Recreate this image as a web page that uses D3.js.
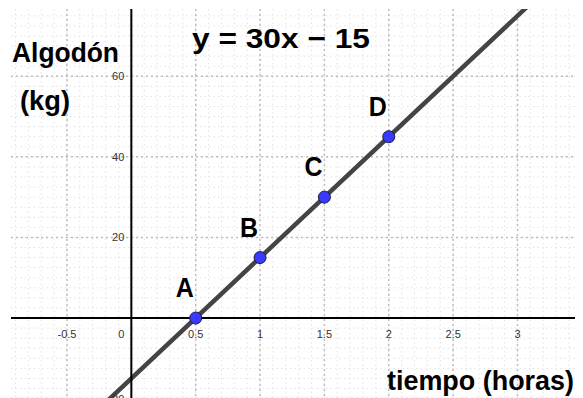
<!DOCTYPE html>
<html>
<head>
<meta charset="utf-8">
<script src="https://cdn.jsdelivr.net/npm/d3@7"></script>
<style>
  body { margin: 0; background: #fff; }
  svg { display: block; }
  text { font-family: "Liberation Sans", Arial, sans-serif; }
</style>
</head>
<body>
<div id="chart"></div>
<script>
// data
var pointNames = ['A', 'B', 'C', 'D'];
var pointX = [0.5, 1, 1.5, 2];
var pointY = [0, 15, 30, 45];
var slope = 30;
var intercept = -15;
var xTickValues = [-0.5, 0, 0.5, 1, 1.5, 2, 2.5, 3];
var xTickLabels = ['-0.5', '0', '0.5', '1', '1.5', '2', '2.5', '3'];
var yTickValues = [-20, 20, 40, 60];
var yTickLabels = ['-20', '20', '40', '60'];

var points = pointNames.map((name, i) => ({ name: name, x: pointX[i], y: pointY[i] }));

// dimensions
var dimensions = {
  width: 583,
  height: 398,
  left: 11,
  right: 575,
  top: 9,
  bottom: 398
};

var svg = d3.select('#chart')
  .append('svg')
  .attr('width', dimensions.width)
  .attr('height', dimensions.height);

// scales
var xScale = d3.scaleLinear()
  .domain([-0.935, 3.447])
  .range([dimensions.left, dimensions.right]);

var yScale = d3.scaleLinear()
  .domain([-19.85, 76.7])
  .range([dimensions.bottom, dimensions.top]);

svg.append('clipPath')
  .attr('id', 'plot-clip')
  .append('rect')
  .attr('x', dimensions.left)
  .attr('y', dimensions.top)
  .attr('width', dimensions.right - dimensions.left)
  .attr('height', dimensions.bottom - dimensions.top);

var plot = svg.append('g').attr('clip-path', 'url(#plot-clip)');

// grid - minor then major
var xMinor = d3.range(-0.9, 3.45, 0.1);
var yMinor = d3.range(-17.5, 77, 2.5);
var xMajor = d3.range(-0.5, 3.45, 0.5);
var yMajor = d3.range(-20, 77, 20);

function vGrid(values, color, width, dash) {
  plot.append('g')
    .selectAll('line')
    .data(values)
    .join('line')
    .attr('x1', d => xScale(d))
    .attr('x2', d => xScale(d))
    .attr('y1', dimensions.top)
    .attr('y2', dimensions.bottom)
    .attr('stroke', color)
    .attr('stroke-width', width)
    .attr('stroke-dasharray', dash);
}

function hGrid(values, color, width, dash) {
  plot.append('g')
    .selectAll('line')
    .data(values)
    .join('line')
    .attr('x1', dimensions.left)
    .attr('x2', dimensions.right)
    .attr('y1', d => yScale(d))
    .attr('y2', d => yScale(d))
    .attr('stroke', color)
    .attr('stroke-width', width)
    .attr('stroke-dasharray', dash);
}

vGrid(xMinor, '#e2e2e2', 1, '1.5,3');
hGrid(yMinor, '#e2e2e2', 1, '1.5,3');
vGrid(xMajor, '#bdbdbd', 1.5, '2,3');
hGrid(yMajor, '#bdbdbd', 1.5, '2,3');

// axes
svg.append('line')
  .attr('x1', dimensions.left)
  .attr('x2', dimensions.right)
  .attr('y1', yScale(0))
  .attr('y2', yScale(0))
  .attr('stroke', '#000')
  .attr('stroke-width', 2);

svg.append('line')
  .attr('x1', xScale(0))
  .attr('x2', xScale(0))
  .attr('y1', dimensions.top)
  .attr('y2', dimensions.bottom)
  .attr('stroke', '#000')
  .attr('stroke-width', 2);

// tick labels
svg.append('g')
  .selectAll('text')
  .data(xTickValues)
  .join('text')
  .attr('x', d => d === 0 ? xScale(0) - 10 : xScale(d))
  .attr('y', yScale(0) + 20)
  .attr('text-anchor', 'middle')
  .attr('font-size', 11)
  .attr('fill', '#333')
  .text((d, i) => xTickLabels[i]);

svg.append('g')
  .selectAll('text')
  .data(yTickValues)
  .join('text')
  .attr('x', xScale(0) - 7)
  .attr('y', d => yScale(d) + 4)
  .attr('text-anchor', 'end')
  .attr('font-size', 11)
  .attr('fill', '#333')
  .text((d, i) => yTickLabels[i]);

// line y = 30x - 15
var lineX = xScale.domain();
plot.append('line')
  .attr('x1', xScale(lineX[0]))
  .attr('y1', yScale(slope * lineX[0] + intercept))
  .attr('x2', xScale(lineX[1]))
  .attr('y2', yScale(slope * lineX[1] + intercept))
  .attr('stroke', '#444')
  .attr('stroke-width', 4.5)
  .attr('stroke-linecap', 'round');

// points
svg.append('g')
  .selectAll('circle')
  .data(points)
  .join('circle')
  .attr('cx', d => xScale(d.x))
  .attr('cy', d => yScale(d.y))
  .attr('r', 6)
  .attr('fill', '#3a3aff')
  .attr('stroke', '#1a1a4a')
  .attr('stroke-width', 1);

// big bold labels, a bit taller than normal like the original
function bigText(x, y, str, len) {
  var t = svg.append('text')
    .attr('transform', 'translate(' + x + ',' + y + ') scale(1,1.13)')
    .attr('font-size', 25)
    .attr('font-weight', 'bold')
    .attr('fill', '#000')
    .text(str);
  if (len) {
    t.attr('textLength', len).attr('lengthAdjust', 'spacingAndGlyphs');
  }
  return t;
}

points.forEach(d => {
  bigText(xScale(d.x) - 20, yScale(d.y) - 21, d.name);
});

// titles
bigText(12, 62, 'Algodón', 107);
bigText(20, 110, '(kg)', 50);
bigText(192, 48, 'y = 30x − 15', 178);
bigText(387, 390, 'tiempo (horas)', 187);
</script>
</body>
</html>
